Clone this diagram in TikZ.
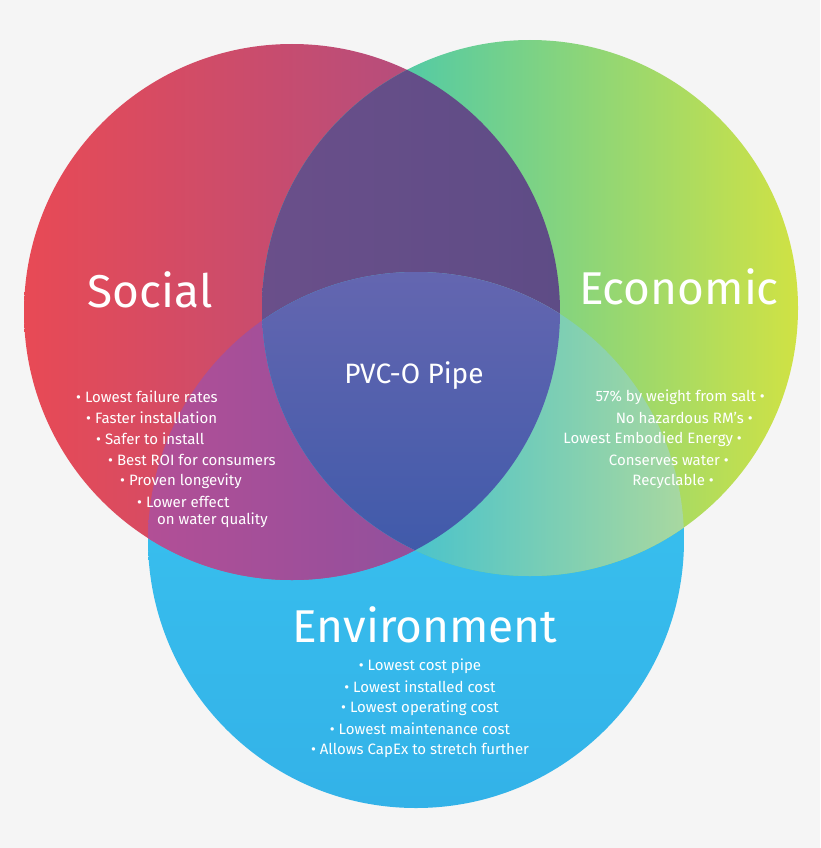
\documentclass[tikz,border=0pt]{standalone}
\usepackage{fontspec}
\setmainfont{Fira Sans}
\definecolor{bg}{HTML}{F5F5F5}
\definecolor{vT}{HTML}{3CC8F2}\definecolor{vB}{HTML}{33B2E8}
\definecolor{sL}{HTML}{E84A55}\definecolor{sR}{HTML}{A24F8C}
\definecolor{eL}{HTML}{26C2C8}\definecolor{eR}{HTML}{D0E244}
\definecolor{seL}{HTML}{6A4F8A}\definecolor{seR}{HTML}{5E4C86}
\definecolor{svL}{HTML}{B24F96}\definecolor{svR}{HTML}{8050A0}
\definecolor{evL}{HTML}{18B8E2}\definecolor{evR}{HTML}{A8D8A0}
\definecolor{cT}{HTML}{6466B0}\definecolor{cB}{HTML}{3F5AAA}
\begin{document}
\begin{tikzpicture}[x=1pt,y=-1pt,
  lst/.style={text=white,font=\fontsize{15}{15}\selectfont,inner sep=0pt},
  ttl/.style={text=white,font=\fontsize{46}{46}\selectfont},
  circ/.style={circle,minimum size=536pt,inner sep=0pt}]
\fill[bg] (0,0) rectangle (820,848);
\useasboundingbox (0,0) rectangle (820,848);
\def\S{(292,312) circle (268)}
\def\E{(530,308) circle (268)}
\def\V{(416,540) circle (268)}
\node[circ] (soc) at (292,312) {};
\node[circ] (eco) at (530,308) {};
\node[circ] (env) at (416,540) {};
\shade[top color=vT,bottom color=vB] \V;
\shade[left color=sL,right color=sR] \S;
\shade[left color=eL,right color=eR] \E;
\begin{scope}\clip \S; \clip \E;
\shade[left color=seL,right color=seR] (262,0) rectangle (560,600);
\end{scope}
\begin{scope}\clip \S; \clip \V;
\shade[left color=svL,right color=svR] (148,260) rectangle (560,600);
\end{scope}
\begin{scope}\clip \E; \clip \V;
\shade[left color=evL,right color=evR] (262,260) rectangle (684,600);
\end{scope}
\begin{scope}\clip \S; \clip \E; \clip \V;
\shade[top color=cT,bottom color=cB] (262,270) rectangle (560,560);
\end{scope}
\node[ttl] (tsoc) at (150,290) {Social};
\node[ttl] (teco) at (679,287) {Economic};
\node[ttl] (tenv) at (425,625) {Environment};
\node[text=white,font=\fontsize{28}{28}\selectfont] (tpvc) at (414,376) {PVC-O Pipe};
\node[lst,anchor=west] (s1) at (76,397) {• Lowest failure rates};
\node[lst,anchor=west] (s2) at (86,418) {• Faster installation};
\node[lst,anchor=west] (s3) at (96,439) {• Safer to install};
\node[lst,anchor=west] (s4) at (108,460) {• Best ROI for consumers};
\node[lst,anchor=west] (s5) at (120,481) {• Proven longevity};
\node[lst,anchor=west] (s6) at (137,502) {• Lower effect};
\node[lst,anchor=west] (s7) at (157,520) {on water quality};
\node[lst,anchor=east] (e1) at (765,397) {57\% by weight from salt •};
\node[lst,anchor=east] (e2) at (753,418) {No hazardous RM's •};
\node[lst,anchor=east] (e3) at (742,439) {Lowest Embodied Energy •};
\node[lst,anchor=east] (e4) at (729,460) {Conserves water •};
\node[lst,anchor=east] (e5) at (714,481) {Recyclable •};
\node[lst] (v1) at (420,666) {• Lowest cost pipe};
\node[lst] (v2) at (420,687) {• Lowest installed cost};
\node[lst] (v3) at (420,708) {• Lowest operating cost};
\node[lst] (v4) at (420,729) {• Lowest maintenance cost};
\node[lst] (v5) at (420,750) {• Allows CapEx to stretch further};
\end{tikzpicture}
\end{document}
